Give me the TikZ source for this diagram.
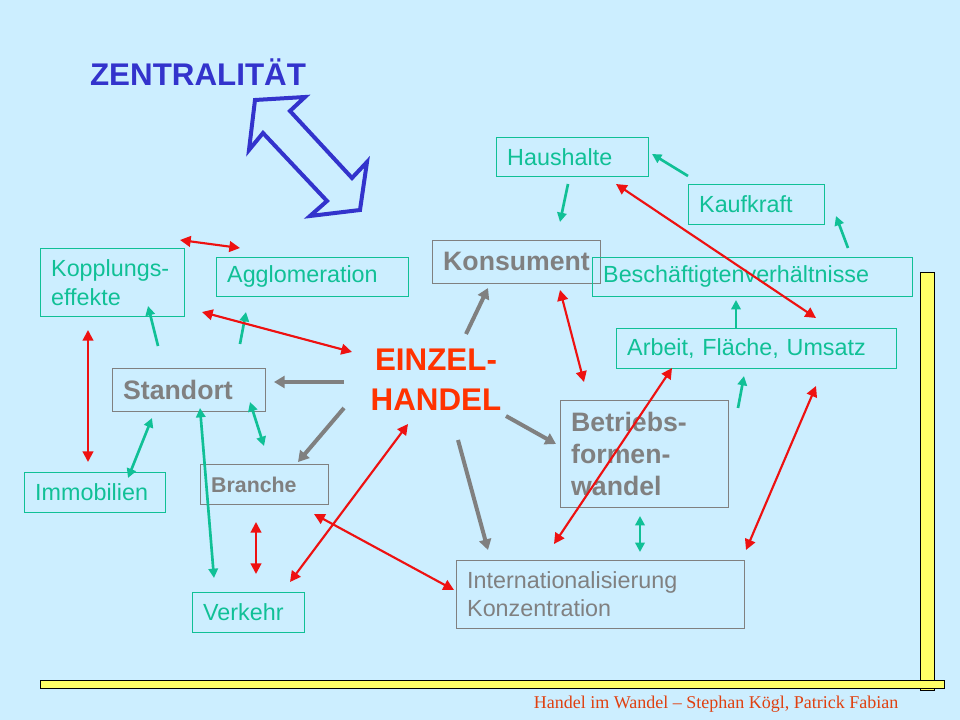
\documentclass[tikz,border=0pt]{standalone}
\usepackage{fontspec}
\setmainfont{Liberation Sans}
\newfontfamily\serifff{Liberation Serif}
\usetikzlibrary{arrows.meta}
\definecolor{bg}{HTML}{CCEEFF}
\definecolor{teal1}{HTML}{10C096}
\definecolor{gr}{HTML}{808080}
\definecolor{tblue}{HTML}{3333CC}
\definecolor{rd}{HTML}{EE1111}
\definecolor{orng}{HTML}{FF3300}
\definecolor{foot}{HTML}{E04010}
\definecolor{yel}{HTML}{FFFF66}
\tikzset{
 px/.style={x=0.75pt,y=-0.75pt},
 tbox/.style={draw=teal1,line width=0.8pt,text=teal1,anchor=north west,inner xsep=8pt,inner ysep=0pt,align=left,font=\fontsize{17.5}{21.5}\selectfont},
 gbox/.style={draw=gr,line width=0.8pt,text=gr,anchor=north west,inner xsep=8pt,inner ysep=0pt,align=left,font=\fontsize{17.5}{21}\selectfont},
 garr/.style={draw=gr,line width=3pt,-{Triangle[length=8pt,width=9pt]}},
 tarr/.style={draw=teal1,line width=2pt,-{Triangle[length=7pt,width=7pt]}},
 tdarr/.style={draw=teal1,line width=2pt,{Triangle[length=7pt,width=7pt]}-{Triangle[length=7pt,width=7pt]}},
 rarr/.style={draw=rd,line width=1.6pt,{Triangle[length=8pt,width=8pt]}-{Triangle[length=8pt,width=8pt]}},
}
\begin{document}
\begin{tikzpicture}[px]
\fill[bg] (0,0) rectangle (960,720);
\useasboundingbox (0,0) rectangle (960,720);
% title
\node[text=tblue,font=\fontsize{23.5}{28}\selectfont\bfseries] (title) at (198,72) {ZENTRALITÄT};
\draw[tblue,line width=3pt,line join=miter] (255,100) -- (305,97) -- (290,111) -- (352,178) -- (367,162) -- (360,210) -- (310,216) -- (327,201) -- (263,133) -- (249,150) -- cycle;
% boxes
\node[tbox,text width=98pt,minimum height=29pt] (haus) at (496,137) {Haushalte};
\node[tbox,text width=86pt,minimum height=30pt] (kauf) at (688,184) {Kaufkraft};
\node[gbox,text width=110pt,minimum height=32pt,font=\fontsize{20}{23}\selectfont\bfseries] (kons) at (432,240) {Konsument};
\node[tbox,text width=224pt,minimum height=29pt] (besch) at (592,257) {Beschäftigtenverhältnisse};
\node[tbox,text width=194pt,minimum height=30pt] (arb) at (616,328) {Arbeit, Fläche, Umsatz};
\node[tbox,text width=92pt,minimum height=51pt] (kopp) at (40,248) {Kopplungs-\\effekte};
\node[tbox,text width=128pt,minimum height=29pt] (aggl) at (216,257) {Agglomeration};
\node[gbox,text width=99pt,minimum height=32pt,font=\fontsize{20}{23}\selectfont\bfseries] (stand) at (112,368) {Standort};
\node[tbox,text width=90pt,minimum height=30pt] (immo) at (24,472) {Immobilien};
\node[gbox,text width=80pt,minimum height=30pt,font=\fontsize{16}{18}\selectfont\bfseries] (bran) at (200,464) {Branche};
\node[tbox,text width=68pt,minimum height=30pt] (verk) at (192,592) {Verkehr};
\node[gbox,text width=110pt,minimum height=80pt,font=\fontsize{20}{24}\selectfont\bfseries] (betr) at (560,400) {Betriebs-\\formen-\\wandel};
\node[gbox,text width=200pt,minimum height=51pt] (intl) at (456,560) {Internationalisierung\\Konzentration};
\node[text=orng,font=\fontsize{23.5}{30}\selectfont\bfseries,align=center] (eh) at (436,380) {EINZEL-\\HANDEL};
% bars
\draw[black,fill=yel,line width=0.6pt] (920,272) rectangle (934,690);
\draw[black,fill=yel,line width=0.6pt] (40,680) rectangle (944,688);
\node[text=foot,font=\serifff\fontsize{13.5}{15}\selectfont,anchor=east] (foot) at (903,704) {Handel im Wandel – Stephan Kögl, Patrick Fabian};
% gray arrows
\draw[garr] (466,334) -- (488,288);
\draw[garr] (344,382) -- (274,382);
\draw[garr] (344,408) -- (298,462);
\draw[garr] (506,416) -- (556,444);
\draw[garr] (458,440) -- (488,550);
% teal arrows
\draw[tarr] (568,184) -- (560,222);
\draw[tarr] (688,176) -- (652,154);
\draw[tarr] (848,248) -- (836,216);
\draw[tarr] (736,328) -- (736,300);
\draw[tarr] (738,408) -- (744,376);
\draw[tarr] (158,346) -- (148,306);
\draw[tarr] (240,344) -- (246,312);
\draw[tdarr] (264,446) -- (250,402);
\draw[tdarr] (128,478) -- (152,418);
\draw[tdarr] (214,578) -- (200,408);
\draw[tdarr] (640,516) -- (640,552);
% red arrows
\draw[rarr] (180,240) -- (240,248);
\draw[rarr] (88,330) -- (88,462);
\draw[rarr] (202,312) -- (352,352);
\draw[rarr] (560,290) -- (584,382);
\draw[rarr] (616,184) -- (816,318);
\draw[rarr] (554,544) -- (672,368);
\draw[rarr] (746,550) -- (816,386);
\draw[rarr] (256,522) -- (256,574);
\draw[rarr] (290,582) -- (408,424);
\draw[rarr] (314,514) -- (454,590);
\end{tikzpicture}
\end{document}
